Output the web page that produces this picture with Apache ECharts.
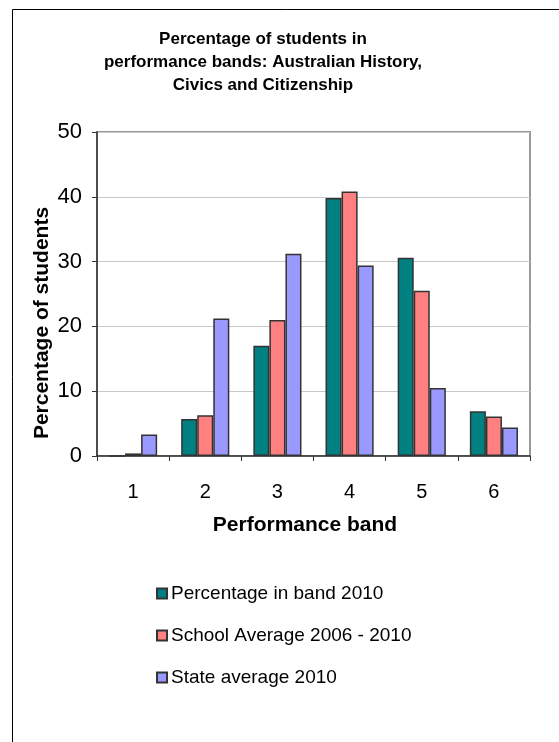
<!DOCTYPE html>
<html>
<head>
<meta charset="utf-8">
<script src="https://cdn.jsdelivr.net/npm/echarts@6/dist/echarts.min.js"></script>
<style>
  html, body { margin: 0; padding: 0; background: #fff; }
  #chart { width: 559px; height: 742px; }
</style>
</head>
<body>
<div id="chart"></div>
<script>
// Performance bands on the x axis
const bands = ['1', '2', '3', '4', '5', '6'];

// Percentage of students in each band
const band2010 = [0, 5.7, 17.0, 39.8, 30.6, 6.9];
const schoolAverage = [0.4, 6.3, 21.0, 40.8, 25.5, 6.1];
const stateAverage = [3.3, 21.2, 31.2, 29.4, 10.5, 4.4];

// Y axis range and step
const yMin = 0;
const yMax = 50;
const yStep = 10;

const FONT = '"Liberation Sans", Arial, sans-serif';
const chart = echarts.init(document.getElementById('chart'), null, { renderer: 'canvas' });

const barStyle = (color) => ({
  color: color,
  borderColor: '#333333',
  borderWidth: 1.5
});

chart.setOption({
  animation: false,
  backgroundColor: '#ffffff',
  textStyle: { fontFamily: FONT },
  title: {
    text: 'Percentage of students in\nperformance bands: Australian History,\nCivics and Citizenship',
    left: 258,
    top: 23,
    textAlign: 'center',
    textStyle: {
      fontFamily: FONT,
      fontSize: 17,
      fontWeight: 'bold',
      color: '#000',
      lineHeight: 23
    }
  },
  legend: {
    orient: 'vertical',
    left: 151,
    top: 579,
    itemWidth: 10,
    itemHeight: 10,
    itemGap: 23,
    icon: 'rect',
    textStyle: { fontFamily: FONT, fontSize: 19, color: '#000', padding: [0, 0, 0, -1] },
    data: ['Percentage in band 2010', 'School Average 2006 - 2010', 'State average 2010']
  },
  grid: {
    left: 97,
    right: 29,
    top: 132,
    bottom: 286,
    show: true,
    borderColor: '#999999',
    borderWidth: 2
  },
  xAxis: {
    type: 'category',
    data: bands,
    boundaryGap: true,
    axisLine: { lineStyle: { color: '#333333', width: 1.5 } },
    axisTick: { show: true, length: 5, inside: false, lineStyle: { color: '#333333' } },
    axisLabel: { fontFamily: FONT, fontSize: 20, color: '#000', margin: 26 }
  },
  yAxis: {
    type: 'value',
    min: yMin,
    max: yMax,
    interval: yStep,
    axisLine: { show: true, lineStyle: { color: '#333333', width: 1.5 } },
    axisTick: { show: true, length: 5, lineStyle: { color: '#333333' } },
    axisLabel: { fontFamily: FONT, fontSize: 22, color: '#000', margin: 15 },
    splitLine: { lineStyle: { color: '#c8c8c8', width: 1 } }
  },
  graphic: [
    {
      type: 'rect',
      shape: { x: 12.5, y: 9.5, width: 600, height: 800 },
      style: { fill: 'none', stroke: '#000', lineWidth: 1 },
      silent: true
    },
    {
      type: 'text',
      x: 42, y: 323,
      rotation: Math.PI / 2,
      style: {
        text: 'Percentage of students',
        fontFamily: FONT, fontSize: 21, fontWeight: 'bold', fill: '#000',
        align: 'center', verticalAlign: 'middle'
      }
    },
    {
      type: 'text',
      x: 305, y: 525,
      style: {
        text: 'Performance band',
        fontFamily: FONT, fontSize: 21, fontWeight: 'bold', fill: '#000',
        align: 'center', verticalAlign: 'middle'
      }
    }
  ],
  series: [
    {
      name: 'Percentage in band 2010',
      type: 'bar',
      data: band2010,
      barGap: '0%',
      barCategoryGap: '33.3%',
      itemStyle: barStyle('#008080')
    },
    {
      name: 'School Average 2006 - 2010',
      type: 'bar',
      data: schoolAverage,
      itemStyle: barStyle('#FF8080')
    },
    {
      name: 'State average 2010',
      type: 'bar',
      data: stateAverage,
      itemStyle: barStyle('#9999FF')
    }
  ]
});
</script>
</body>
</html>
